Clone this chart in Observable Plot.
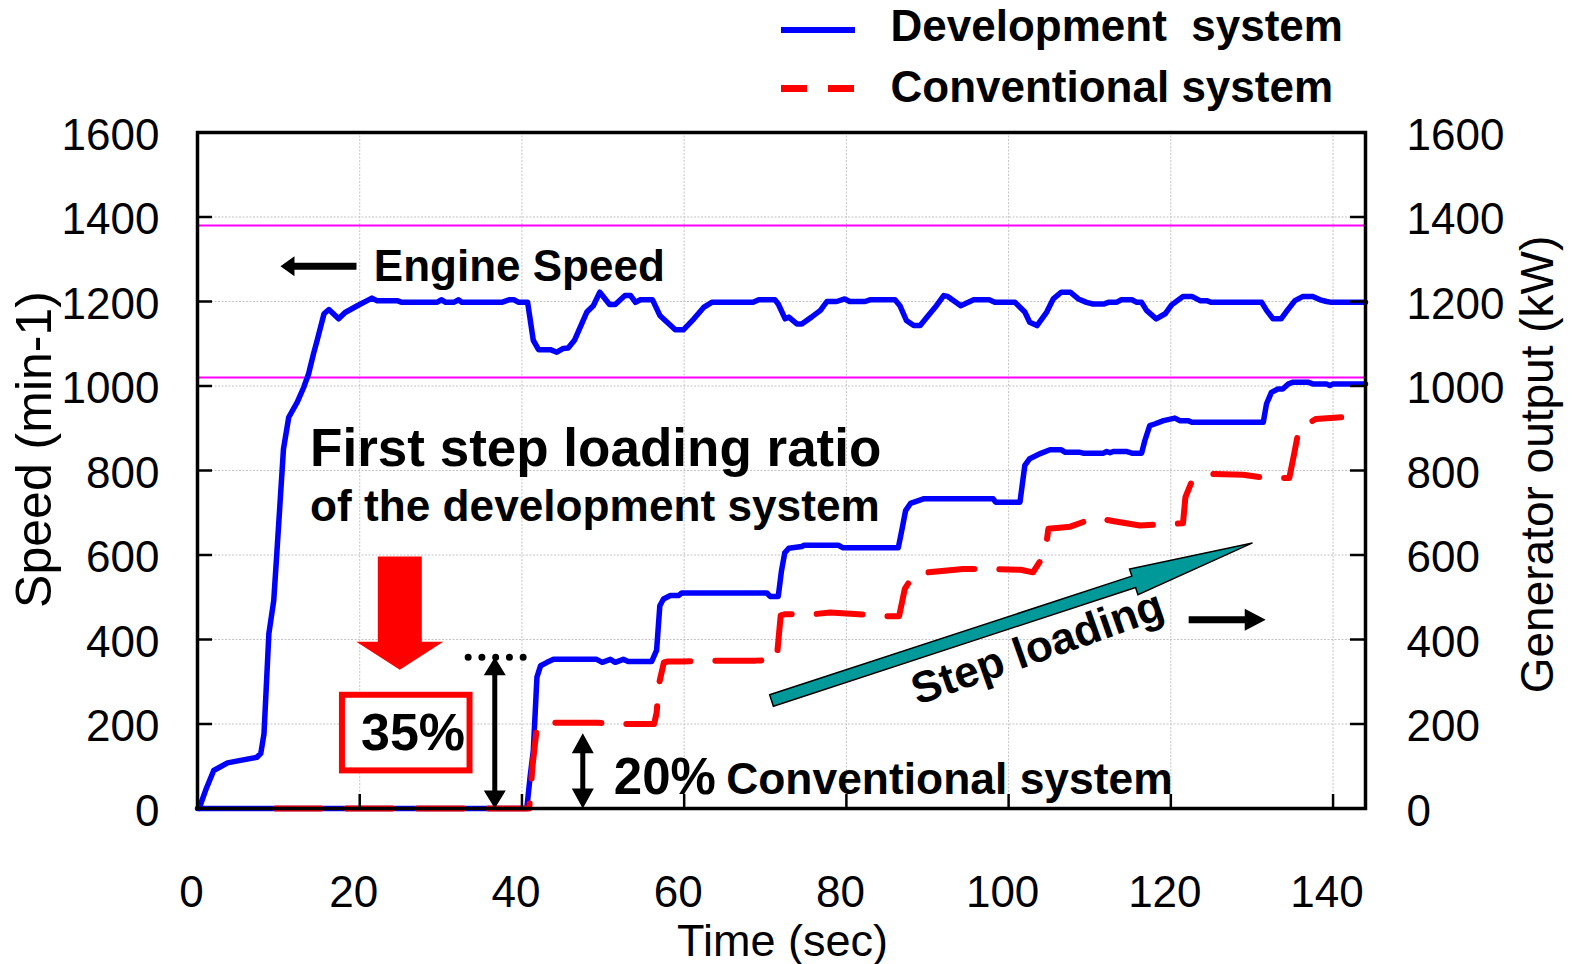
<!DOCTYPE html>
<html><head><meta charset="utf-8">
<script src="https://cdn.jsdelivr.net/npm/d3@7"></script>
<script src="https://cdn.jsdelivr.net/npm/@observablehq/plot@0.6"></script>
<style>
body{margin:0;background:#fff;}
#wrap{position:relative;width:1576px;height:964px;overflow:hidden;background:#fff;}
#wrap svg{display:block;}
.legend{position:absolute;left:0;top:0;}
</style></head><body><div id="wrap"></div>
<script>
// ---------------- data ----------------
const xTicks = [0, 20, 40, 60, 80, 100, 120, 140];
const yTicks = [0, 200, 400, 600, 800, 1000, 1200, 1400, 1600];
const gridXVals = [20, 40, 60, 80, 100, 120, 140];
const gridYVals = [200, 400, 600, 800, 1000, 1200, 1400];
const limitLines = [1020, 1380];
const seriesNames = ["Development  system", "Conventional system"];
const seriesColors = ["#0000ff", "#ff0000"];

// Engine speed, development system (min-1)
const speedT = [0.2,1,2,3.7,5.3,7.3,7.8,8.2,8.8,9.4,9.8,10.6,11.25,12.3,13.1,13.7,14.3,14.75,15.6,16.2,17.4,18.2,19.7,21.5,22.1,24.6,25.2,29.5,30.1,30.6,31.6,32.2,32.6,37.5,38.4,39,39.6,40.7,41.4,42.05,43.5,44.3,45.1,45.7,46.5,48,48.8,49.6,50.8,51.5,52.7,53.4,54,54.6,56.1,57,57.9,58.9,59.9,61.2,62.4,63.4,68.5,69.2,71.2,71.6,72.45,72.9,73.9,74.5,75.7,76.8,77.6,78.8,79.8,80.4,82.3,82.9,86,86.6,87.4,88.3,89.1,90.1,91.1,92,92.5,94.1,95.7,97.6,98.3,100.8,102,102.6,103.5,104.7,105.5,106.5,107.6,108.6,109.6,110.4,111.7,112.3,113.3,113.9,115.2,115.8,116.4,117,118.2,119.3,120.1,121.5,122.6,123.6,124.4,125,131.2,131.8,132.6,133.6,134.2,135.3,136.3,137.5,138.4,139.2,139.8,144];
const speedV = [0,43,90,108,114,121,130,177,414,492,610,851,926,962,997,1029,1076,1108,1171,1181,1159,1174,1190,1208,1202,1202,1198,1198,1204,1198,1198,1204,1198,1198,1204,1204,1198,1198,1108,1086,1086,1080,1089,1090,1109,1175,1190,1222,1193,1193,1214,1214,1198,1204,1204,1167,1151,1133,1133,1159,1186,1198,1198,1204,1204,1194,1159,1163,1147,1147,1163,1179,1200,1200,1206,1200,1200,1204,1204,1190,1155,1143,1143,1167,1190,1214,1212,1190,1204,1204,1198,1198,1175,1151,1143,1175,1206,1222,1222,1206,1198,1194,1194,1198,1198,1204,1204,1198,1198,1179,1159,1171,1192,1212,1212,1202,1202,1198,1198,1179,1159,1159,1175,1202,1212,1212,1204,1200,1198,1198];

// Generator output, development system (kW)
const devT = [0,40.6,41,41.4,41.85,42.3,43.1,43.9,49.2,49.9,50.9,51.5,52.5,53.1,56,56.6,57,57.45,58.3,59.3,59.7,70.2,70.6,71.6,72,72.4,72.9,74.5,74.8,79,79.6,86.4,86.9,87.3,87.9,89.5,98.1,98.4,101.4,102,102.6,103.9,105.1,106.5,107,108.8,109.2,111.7,112.1,112.5,112.9,114.5,115.2,116.4,116.8,117.4,118,119.1,120.5,121.1,122.1,122.6,131.4,131.8,132.4,133.2,133.8,134.5,135.1,136.9,137.5,139.2,139.6,140,144];
const devV = [0,0,74,137,311,338,346,353,353,346,353,346,353,348,348,374,480,496,504,504,510,510,502,502,563,605,616,620,623,623,617,617,665,705,722,733,733,725,725,812,828,840,849,849,843,843,841,841,845,842,845,845,841,841,871,906,910,918,924,918,918,914,914,958,985,993,993,1005,1009,1009,1005,1005,1001,1005,1005];

// Generator output, conventional system (kW)
const convT = [9.6,40.9,41.3,41.8,42.5,49.4,52.6,56.3,56.6,56.9,57.5,58,59.6,63.4,68.8,71.4,71.9,72.5,76,78,81.5,84.4,86.5,87.2,88.2,89.1,94.4,97.7,101.5,103,104.5,104.9,107.6,110.6,113,116.2,119.5,121.5,121.8,122.5,123.4,125,128.9,131.9,134.6,135.2,135.8,137.9,141];
const convV = [0,0,100,185,203,203,200,200,226,295,346,348,348,350,350,352,457,460,460,464,460,455,455,520,550,557,567,567,565,559,604,662,667,688,680,670,673,675,737,770,782,792,790,782,782,839,899,922,926];

// annotation content (data units: seconds, kW / min-1)
const annotTexts = [
  {x: 13.88, y: 811.8, text: "First step loading ratio", size: 53, anchor: "start"},
  {x: 13.88, y: 680.5, text: "of the development system", size: 44.2, anchor: "start"},
  {x: 21.74, y: 1249.7, text: "Engine Speed", size: 44, anchor: "start"},
  {x: 26.57, y: 137.3, text: "35%", size: 52, anchor: "middle"},
  {x: 51.33, y: 34.8, text: "20%", size: 51, anchor: "start"},
  {x: 65.18, y: 34.8, text: "Conventional system", size: 44.4, anchor: "start"}
];
const stepLabel = [{x: 103.56, y: 380, text: "Step loading"}];
const ratioBox = [{x1: 17.87, x2: 33.6, y1: 89, y2: 268}];
const dotLine = [{y: 358, x1: 33.43, x2: 40.3}];
// arrows: tail (x1,y1) -> tip (x2,y2)
const arrows = [
  {x1: 19.6, y1: 1283.5, x2: 10.23, y2: 1283.5, shaft: 3.5, headLen: 14, headHalf: 10, fill: "black", stroke: "none", double: false},
  {x1: 122.2, y1: 447, x2: 131.7, y2: 447, shaft: 3.5, headLen: 21, headHalf: 11, fill: "black", stroke: "none", double: false},
  {x1: 24.94, y1: 596.4, x2: 24.94, y2: 328.3, shaft: 22, headLen: 28, headHalf: 43.5, fill: "#ff0000", stroke: "none", double: false},
  {x1: 70.77, y1: 255.6, x2: 130.07, y2: 628.6, shaft: 6, headLen: 125, headHalf: 13.5, fill: "#009999", stroke: "black", double: false},
  {x1: 36.65, y1: 0, x2: 36.65, y2: 358, shaft: 2.5, headLen: 18, headHalf: 11, fill: "black", stroke: "none", double: true},
  {x1: 47.5, y1: 0, x2: 47.5, y2: 178, shaft: 2.5, headLen: 20, headHalf: 11, fill: "black", stroke: "none", double: true}
];

// ---------------- layout ----------------
const W = 1576, H = 964, ML = 197, MR = 211, MT = 132, MB = 156;
const xDomain = [0, 144], yDomain = [0, 1600];
const fw = W - ML - MR, fh = H - MT - MB;
const kx = fw / (xDomain[1] - xDomain[0]), ky = fh / (yDomain[1] - yDomain[0]);
const font = "'Liberation Sans', Arial, Helvetica, sans-serif";

const speed = speedT.map((t, i) => ({t, v: speedV[i]}));
const dev = devT.map((t, i) => ({t, v: devV[i]}));
const conv = convT.map((t, i) => ({t, v: convV[i]}));

function arrowShape(s, hl, hh, dbl) {
  return {draw(ctx, l) {
    if (!dbl) {
      ctx.moveTo(-s, 0);
      ctx.lineTo(-s, -(l - hl));
      ctx.lineTo(-hh, -(l - hl));
      ctx.lineTo(0, -l);
      ctx.lineTo(hh, -(l - hl));
      ctx.lineTo(s, -(l - hl));
      ctx.lineTo(s, 0);
      ctx.closePath();
    } else {
      ctx.moveTo(0, 0);
      ctx.lineTo(-hh, -hl);
      ctx.lineTo(-s, -hl);
      ctx.lineTo(-s, -(l - hl));
      ctx.lineTo(-hh, -(l - hl));
      ctx.lineTo(0, -l);
      ctx.lineTo(hh, -(l - hl));
      ctx.lineTo(s, -(l - hl));
      ctx.lineTo(s, -hl);
      ctx.lineTo(hh, -hl);
      ctx.closePath();
    }
  }};
}
function arrowMark(a) {
  const dx = (a.x2 - a.x1) * kx, dy = -(a.y2 - a.y1) * ky;
  const len = Math.hypot(dx, dy);
  const rot = Math.atan2(dx, -dy) * 180 / Math.PI;
  return Plot.vector([a], {x: "x1", y: "y1", length: len, rotate: rot, anchor: "start",
    shape: arrowShape(a.shaft, a.headLen, a.headHalf, a.double),
    fill: a.fill, stroke: a.stroke, strokeWidth: a.stroke === "none" ? 0 : 1.5, strokeLinejoin: "miter"});
}

const marks = [
  Plot.ruleX(gridXVals, {stroke: "#c4c4c4", strokeWidth: 1, strokeDasharray: "2,1.5"}),
  Plot.ruleY(gridYVals, {stroke: "#c4c4c4", strokeWidth: 1, strokeDasharray: "2,1.5"}),
  Plot.ruleY(limitLines, {stroke: "#ff00ff", strokeWidth: 2}),
  Plot.line(speed, {x: "t", y: "v", stroke: seriesColors[0], strokeWidth: 5.5, strokeLinejoin: "round"}),
  Plot.line(dev, {x: "t", y: "v", stroke: seriesColors[0], strokeWidth: 5.5, strokeLinejoin: "round"}),
  Plot.line(conv, {x: "t", y: "v", stroke: seriesColors[1], strokeWidth: 6, strokeDasharray: "46,25"}),
  Plot.frame({stroke: "black", strokeWidth: 3.5}),
  Plot.ruleY(yTicks.slice(1, -1), {stroke: "black", strokeWidth: 2.5, insetRight: fw - 15}),
  Plot.ruleY(yTicks.slice(1, -1), {stroke: "black", strokeWidth: 2.5, insetLeft: fw - 15}),
  Plot.ruleX(xTicks.slice(1), {stroke: "black", strokeWidth: 2.5, insetTop: fh - 14}),
  Plot.axisX({ticks: xTicks, tickSize: 0, tickPadding: 67, fontSize: 44, dx: -6, tickFormat: d => String(d), label: null}),
  Plot.axisY({anchor: "left", ticks: yTicks, tickSize: 0, tickPadding: 38, fontSize: 44, dy: 3, tickFormat: d => String(d), label: null}),
  Plot.axisY({anchor: "right", ticks: yTicks, tickSize: 0, tickPadding: 41, fontSize: 44, dy: 3, tickFormat: d => String(d), label: null}),
  Plot.text(["Speed (min-1)"], {frameAnchor: "left", dx: 34 - ML, dy: -21, rotate: -90, textAnchor: "middle", fontSize: 50}),
  Plot.text(["Generator output (kW)"], {frameAnchor: "right", dx: 1538 - (W - MR), dy: -6, rotate: -90, textAnchor: "middle", fontSize: 46}),
  Plot.text(["Time (sec)"], {frameAnchor: "bottom", dx: 1, dy: 955 - (H - MB), lineAnchor: "bottom", fontSize: 45}),
  Plot.rect(ratioBox, {x1: "x1", x2: "x2", y1: "y1", y2: "y2", fill: "white", stroke: "#ff0000", strokeWidth: 6}),
  Plot.ruleY(dotLine, {y: "y", x1: "x1", x2: "x2", stroke: "black", strokeWidth: 7, strokeDasharray: "0,13.75", strokeLinecap: "round"}),
  ...arrows.map(arrowMark),
  ...annotTexts.map(a => Plot.text([a], {x: "x", y: "y", text: "text", fontSize: a.size, fontWeight: "bold", textAnchor: a.anchor, lineAnchor: "bottom", fill: "black"})),
  Plot.text(stepLabel, {x: "x", y: "y", text: "text", fontSize: 44, fontWeight: "bold", rotate: -19.5, textAnchor: "middle", lineAnchor: "middle", fill: "black"})
];

const plot = Plot.plot({
  width: W, height: H,
  marginLeft: ML, marginRight: MR, marginTop: MT, marginBottom: MB,
  style: {fontFamily: font, color: "black", background: "white", overflow: "visible"},
  x: {domain: xDomain},
  y: {domain: yDomain},
  marks
});
const wrap = document.getElementById("wrap");
wrap.appendChild(plot);

// ---------------- legend (overlay above the plot frame) ----------------
const leg = d3.select(wrap).append("svg").attr("class", "legend")
  .attr("width", W).attr("height", 125).style("font-family", font);
const legRows = [
  {y: 30, base: 41, dash: null},
  {y: 88.5, base: 101.5, dash: "26,21"}
];
seriesNames.forEach((name, i) => {
  const r = legRows[i];
  leg.append("line").attr("x1", 781).attr("x2", 855).attr("y1", r.y).attr("y2", r.y)
    .attr("stroke", seriesColors[i]).attr("stroke-width", i === 0 ? 6 : 7)
    .attr("stroke-dasharray", r.dash);
  leg.append("text").attr("x", 890.5).attr("y", r.base).attr("font-size", 44)
    .attr("font-weight", "bold").style("white-space", "pre").attr("xml:space", "preserve").text(name);
});
</script></body></html>
